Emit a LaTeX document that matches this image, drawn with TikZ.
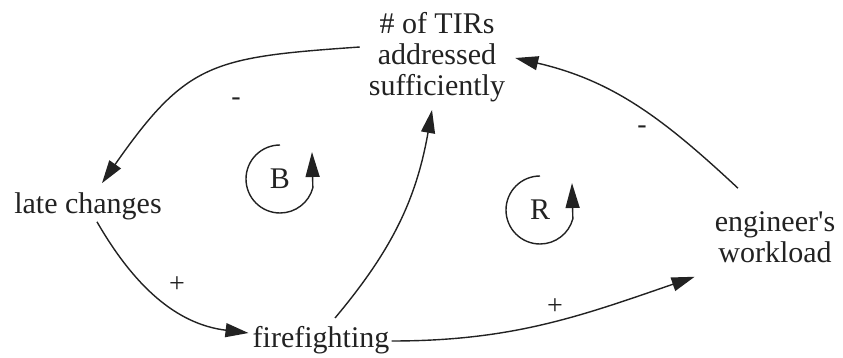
\documentclass[tikz,border=0pt]{standalone}
\usepackage{fontspec}
\setmainfont{Liberation Serif}
\usetikzlibrary{arrows.meta}
\definecolor{ink}{HTML}{222222}
\tikzset{
  lbl/.style={inner sep=0pt, align=center, text=ink, font=\fontsize{30}{31}\selectfont},
  sign/.style={inner sep=0pt, text=ink, font=\fontsize{28}{30}\selectfont},
  link/.style={draw=ink, line width=1.4pt, -{Triangle[length=23pt,width=14pt]}},
  loopsym/.style={draw=ink, line width=1.4pt, -{Triangle[length=25pt,width=14pt]}}
}
\begin{document}
\begin{tikzpicture}[x=1pt,y=-1pt]
\useasboundingbox (0,0) rectangle (843,358);
% nodes
\node[lbl] (tir) at (437,57) {\# of TIRs\\addressed\\sufficiently};
\node[lbl] (late) at (88,206) {late changes};
\node[lbl] (fire) at (321,340) {firefighting};
\node[lbl] (eng) at (775,237) {engineer\textquotesingle s\\workload};
% loop markers
\node[lbl] (B) at (280,179) {B};
\node[lbl] (R) at (540,210) {R};
\draw[loopsym] ([shift={(0,-34)}]B.center) arc[start angle=270,end angle=15,radius=34] -- ([shift={(32,-27)}]B.center);
\draw[loopsym] ([shift={(0,-34)}]R.center) arc[start angle=270,end angle=15,radius=34] -- ([shift={(32,-27)}]R.center);
% links
\draw[link] ([shift={(-9,-10)}]tir.west) to[out=184,in=55,looseness=1.3] ([shift={(14,-9)}]late.north);
\draw[link] ([shift={(9,2)}]late.south) to[out=-60,in=173] ([shift={(-4,-7)}]fire.west);
\draw[link] ([shift={(14,-8)}]fire.north) to[out=50,in=260] ([shift={(-5,8)}]tir.south);
\draw[link] ([shift={(2,1)}]fire.east) to[out=0,in=199] ([shift={(-20,14)}]eng.south west);
\draw[link] ([shift={(-37,-23)}]eng.north) to[out=137,in=-13] ([shift={(10,1)}]tir.east);
% polarity signs
\node[sign] (s1) at (236,102) {-};
\node[sign] (s2) at (177,285) {+};
\node[sign] (s3) at (555,307) {+};
\node[sign] (s4) at (642,130) {-};
\end{tikzpicture}
\end{document}
